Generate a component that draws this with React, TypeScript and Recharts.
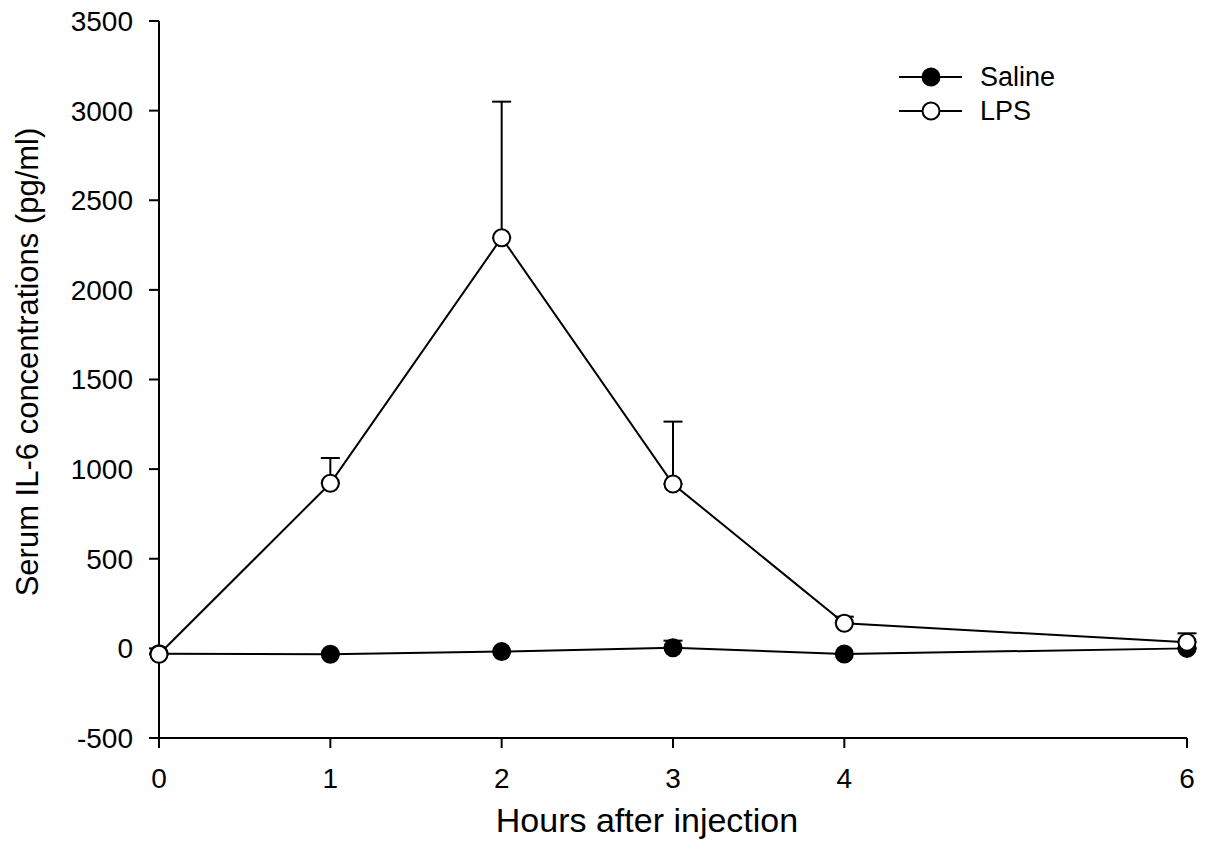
import React from 'react';
import { LineChart, Line, XAxis, YAxis, ErrorBar, Label } from 'recharts';

// hours after injection, mean and SEM per group (pg/ml)
const hours = [0, 1, 2, 3, 4, 6];
const salineMean = [-30, -33, -18, 4, -31, 0];
const salineSem = [0, 0, 0, 39, 0, 0];
const lpsMean = [-33, 921, 2291, 917, 140, 34];
const lpsSem = [0, 141, 759, 348, 37, 50];

const xTicks = [0, 1, 2, 3, 4, 6];
const yTicks = [-500, 0, 500, 1000, 1500, 2000, 2500, 3000, 3500];

const FONT = '"Liberation Sans", Arial, Helvetica, sans-serif';

const data = hours.map((h, i) => ({
  hour: h,
  saline: salineMean[i],
  salineErr: [0, salineSem[i]],
  lps: lpsMean[i],
  lpsErr: [0, lpsSem[i]],
}));

const axisStroke = { stroke: '#000', strokeWidth: 2 };
const tickStyle = { fill: '#000', fontSize: 28, fontFamily: FONT };

const LegendRow = ({ filled, name }: { filled: boolean; name: string }) => (
  <div style={{ display: 'flex', alignItems: 'center', height: 34 }}>
    <svg width={81} height={34}>
      <line x1={0} y1={17} x2={63} y2={17} stroke="#000" strokeWidth={2} />
      <circle cx={32} cy={17} r={8.5} fill={filled ? '#000' : '#fff'} stroke="#000" strokeWidth={2} />
    </svg>
    <span style={{ fontSize: 27, fontFamily: FONT, color: '#000', lineHeight: '34px' }}>{name}</span>
  </div>
);

export default function App() {
  return (
    <div style={{ margin: -8, width: 1207, height: 861, background: '#fff', position: 'relative' }}>
      <LineChart
        width={1207}
        height={861}
        data={data}
        margin={{ top: 21, right: 20, left: 0, bottom: 0 }}
        style={{ fontFamily: FONT }}
      >
        <XAxis
          dataKey="hour"
          type="number"
          domain={[0, 6]}
          ticks={xTicks}
          height={123}
          tickSize={10}
          tickMargin={20}
          axisLine={axisStroke}
          tickLine={axisStroke}
          tick={tickStyle}
        >
          <Label
            content={() => (
              <text x={647} y={832} textAnchor="middle" fontSize={34} fontFamily={FONT} fill="#000">
                Hours after injection
              </text>
            )}
          />
        </XAxis>
        <YAxis
          type="number"
          domain={[-500, 3500]}
          ticks={yTicks}
          width={159}
          tickSize={10}
          tickMargin={16}
          axisLine={axisStroke}
          tickLine={axisStroke}
          tick={tickStyle}
          allowDataOverflow
        >
          <Label
            content={() => (
              <text
                x={0}
                y={0}
                transform="translate(38 362) rotate(-90)"
                textAnchor="middle"
                fontSize={31}
                fontFamily={FONT}
                fill="#000"
              >
                Serum IL-6 concentrations (pg/ml)
              </text>
            )}
          />
        </YAxis>
        <Line
          dataKey="saline"
          stroke="#000"
          strokeWidth={2}
          isAnimationActive={false}
          dot={{ r: 8.5, fill: '#000', stroke: '#000', strokeWidth: 2 }}
          activeDot={false}
        >
          <ErrorBar dataKey="salineErr" direction="y" width={9.5} stroke="#000" strokeWidth={2} />
        </Line>
        <Line
          dataKey="lps"
          stroke="#000"
          strokeWidth={2}
          isAnimationActive={false}
          dot={{ r: 8.5, fill: '#fff', stroke: '#000', strokeWidth: 2 }}
          activeDot={false}
        >
          <ErrorBar dataKey="lpsErr" direction="y" width={9.5} stroke="#000" strokeWidth={2} />
        </Line>
      </LineChart>

      {/* legend */}
      <div style={{ position: 'absolute', left: 899, top: 60 }}>
        <LegendRow filled name="Saline" />
        <LegendRow filled={false} name="LPS" />
      </div>
    </div>
  );
}
